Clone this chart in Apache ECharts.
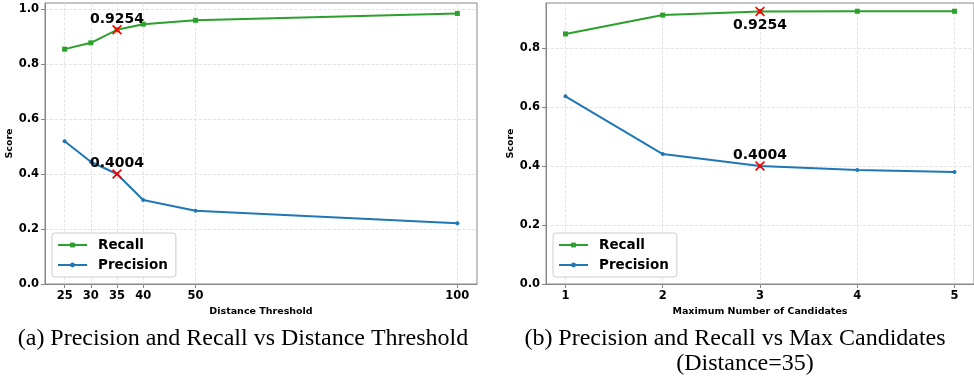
<!DOCTYPE html>
<html>
<head>
<meta charset="utf-8">
<script src="https://cdn.jsdelivr.net/npm/echarts@6/dist/echarts.min.js"></script>
<style>
  html, body { margin: 0; padding: 0; background: #fff; }
  #chart { width: 974px; height: 379px; }
</style>
</head>
<body>
<div id="chart"></div>
<script>
// (a) distance threshold sweep
const distX = [25, 30, 35, 40, 50, 100];
const distRecall = [0.855, 0.878, 0.9254, 0.946, 0.960, 0.985];
const distPrecision = [0.520, 0.445, 0.4004, 0.306, 0.267, 0.221];
const distTicks = [25, 30, 35, 40, 50, 100];

// (b) max candidates sweep
const candX = [1, 2, 3, 4, 5];
const candRecall = [0.849, 0.913, 0.9254, 0.926, 0.926];
const candPrecision = [0.637, 0.441, 0.4004, 0.387, 0.380];
const candTicks = [1, 2, 3, 4, 5];

// highlighted points (chosen setting)
const distPick = [[35, 0.9254], [35, 0.4004]];
const candPick = [[3, 0.9254], [3, 0.4004]];

const scoreTicks = [0, 0.2, 0.4, 0.6, 0.8, 1.0];
const scoreTicksB = [0, 0.2, 0.4, 0.6, 0.8];

const GREEN = '#2ca02c';
const BLUE = '#1f77b4';
const FONT = 'DejaVu Sans';
const X_ICON = 'path://M0,1.2L1.2,0L5,3.8L8.8,0L10,1.2L6.2,5L10,8.8L8.8,10L5,6.2L1.2,10L0,8.8L3.8,5Z';

const zip = (xs, ys) => xs.map((x, i) => [x, ys[i]]);

function xAxisCfg(gridIndex, min, max, ticks, name, nameGap) {
  return {
    type: 'value', gridIndex, min, max,
    name, nameLocation: 'middle', nameGap,
    nameTextStyle: { fontFamily: FONT, fontWeight: 'bold', fontSize: 9.5, color: '#000' },
    axisLine: { show: true, onZero: false, lineStyle: { color: '#888', width: 1 } },
    axisTick: { show: true, length: 4, customValues: ticks, lineStyle: { color: '#888' } },
    axisLabel: { customValues: ticks, margin: 6, fontFamily: FONT, fontWeight: 'bold', fontSize: 11.5, color: '#000' },
    splitLine: { show: true, lineStyle: { color: '#ddd', type: 'dashed', width: 0.8 } }
  };
}

function yAxisCfg(gridIndex, max, ticks, nameGap) {
  return {
    type: 'value', gridIndex, min: 0, max,
    name: 'Score', nameLocation: 'middle', nameGap, nameRotate: 90,
    nameTextStyle: { fontFamily: FONT, fontWeight: 'bold', fontSize: 9.5, color: '#000' },
    axisLine: { show: true, lineStyle: { color: '#888', width: 1 } },
    axisTick: { show: true, length: 4, customValues: ticks, lineStyle: { color: '#888' } },
    axisLabel: {
      customValues: ticks, margin: 6, fontFamily: FONT, fontWeight: 'bold', fontSize: 11.5, color: '#000',
      formatter: v => v.toFixed(1)
    },
    splitLine: { show: true, lineStyle: { color: '#ddd', type: 'dashed', width: 0.8 } }
  };
}

function lineSeries(name, idx, data, color, symbol, size) {
  return {
    name, type: 'line', xAxisIndex: idx, yAxisIndex: idx, data,
    symbol, symbolSize: size, showAllSymbol: true,
    lineStyle: { color, width: 2 },
    itemStyle: { color },
    z: 3
  };
}

function pickSeries(idx, data, offsets) {
  return {
    type: 'scatter', xAxisIndex: idx, yAxisIndex: idx,
    data: data.map((d, i) => ({
      value: d,
      label: { offset: [0, offsets[i]] }
    })),
    symbol: X_ICON, symbolSize: 10,
    itemStyle: { color: '#ff0000', opacity: 1 },
    label: {
      show: true, position: 'inside',
      formatter: p => p.value[1].toFixed(4),
      fontFamily: FONT, fontWeight: 'bold', fontSize: 14, color: '#000'
    },
    z: 5
  };
}

function legendCfg(left) {
  return {
    data: ['Recall', 'Precision'],
    orient: 'vertical', left, top: 233,
    itemWidth: 29, itemHeight: 6, itemGap: 6,
    padding: [5, 8, 5, 5],
    backgroundColor: '#fff', borderColor: '#ccc', borderWidth: 1, borderRadius: 3,
    textStyle: { fontFamily: FONT, fontWeight: 'bold', fontSize: 13.5, color: '#000', padding: [0, 0, 0, 6] }
  };
}

const chart = echarts.init(document.getElementById('chart'), null, { renderer: 'canvas' });
chart.setOption({
  animation: false,
  backgroundColor: '#fff',
  grid: [
    { left: 45, top: 3, width: 432, height: 281, show: true, borderColor: '#888', borderWidth: 1, backgroundColor: 'transparent' },
    { left: 546, top: 3, width: 433, height: 281, show: true, borderColor: '#888', borderWidth: 1, backgroundColor: 'transparent' }
  ],
  xAxis: [
    xAxisCfg(0, 21.25, 103.75, distTicks, 'Distance Threshold', 16),
    xAxisCfg(1, 0.8, 5.2, candTicks, 'Maximum Number of Candidates', 16)
  ],
  yAxis: [
    yAxisCfg(0, 1.023, scoreTicks, 28),
    yAxisCfg(1, 0.954, scoreTicksB, 26)
  ],
  legend: [legendCfg(52), legendCfg(553)],
  series: [
    lineSeries('Recall', 0, zip(distX, distRecall), GREEN, 'rect', 5),
    lineSeries('Precision', 0, zip(distX, distPrecision), BLUE, 'circle', 4),
    lineSeries('Recall', 1, zip(candX, candRecall), GREEN, 'rect', 5),
    lineSeries('Precision', 1, zip(candX, candPrecision), BLUE, 'circle', 4),
    pickSeries(0, distPick, [-10, -11]),
    pickSeries(1, candPick, [14, -11])
  ],
  graphic: [
    {
      type: 'text', x: 243, y: 339,
      style: { text: '(a) Precision and Recall vs Distance Threshold', fontFamily: 'Liberation Serif', fontSize: 24, fill: '#000', align: 'center', verticalAlign: 'middle' }
    },
    {
      type: 'text', x: 735, y: 339,
      style: { text: '(b) Precision and Recall vs Max Candidates', fontFamily: 'Liberation Serif', fontSize: 24, fill: '#000', align: 'center', verticalAlign: 'middle' }
    },
    {
      type: 'text', x: 745, y: 364,
      style: { text: '(Distance=35)', fontFamily: 'Liberation Serif', fontSize: 24, fill: '#000', align: 'center', verticalAlign: 'middle' }
    }
  ]
});
</script>
</body>
</html>
